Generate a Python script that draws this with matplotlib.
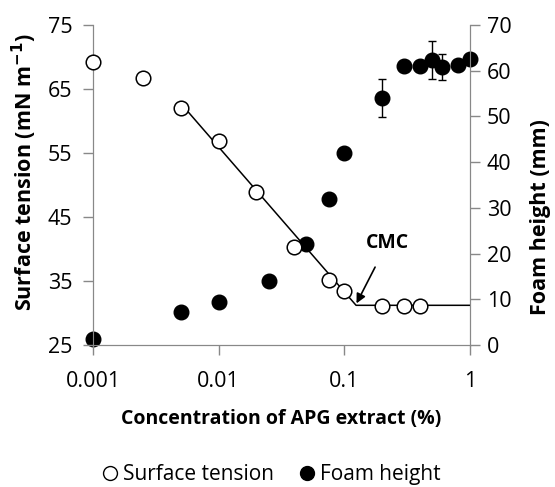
import matplotlib.pyplot as plt
from matplotlib.lines import Line2D

# Surface tension (open circles)
st_conc = [0.001, 0.0025, 0.005, 0.01, 0.02, 0.04, 0.075, 0.1, 0.2, 0.3, 0.4]
st_val = [69.2, 66.7, 62.0, 56.9, 48.9, 40.3, 35.2, 33.4, 31.1, 31.1, 31.1]

# Foam height (filled circles)
fh_conc = [0.001, 0.005, 0.01, 0.025, 0.05, 0.075, 0.1, 0.2, 0.3, 0.4, 0.5, 0.6, 0.8, 1.0]
fh_val = [1.3, 7.2, 9.4, 14.0, 22.1, 31.9, 42.0, 54.0, 61.0, 61.0, 62.3, 60.8, 61.3, 62.5]
fh_err = [0, 0, 0, 0, 0, 0, 0, 4.2, 0, 0, 4.2, 2.8, 0, 0]

# Fitted lines for CMC
fit_x = [0.0055, 0.124, 1.0]
fit_y = [61.8, 31.2, 31.2]

plt.rcParams['font.family'] = ['Open Sans', 'DejaVu Sans']

fig = plt.figure(figsize=(5.55, 4.87), dpi=100)
ax = fig.add_axes([0.1676, 0.2916, 0.6792, 0.6571])
ax2 = ax.twinx()

grey = '#888888'

ax.plot(fit_x, fit_y, color='black', lw=1.1, zorder=2)
ax.plot(st_conc, st_val, 'o', mfc='white', mec='black', mew=1.1, ms=10.5,
        clip_on=False, zorder=3)
ax2.errorbar(fh_conc, fh_val, yerr=fh_err, fmt='o', color='black', ms=10.5,
             elinewidth=1, capsize=3, capthick=1, clip_on=False, zorder=3)

ax.set_xscale('log')
ax.set_xlim(0.001, 1)
ax.set_ylim(25, 75)
ax2.set_ylim(0, 70)
ax.set_xticks([0.001, 0.01, 0.1, 1])
ax.set_xticklabels(['0.001', '0.01', '0.1', '1'])
ax.xaxis.set_minor_locator(plt.NullLocator())
ax.set_yticks([25, 35, 45, 55, 65, 75])
ax2.set_yticks(range(0, 71, 10))

for a in (ax, ax2):
    a.spines['top'].set_visible(False)
    for s in ('left', 'right', 'bottom'):
        a.spines[s].set_color(grey)
    a.tick_params(colors=grey, labelcolor='black', labelsize=15.5, length=7, width=1)
ax.tick_params(axis='y', pad=8)
ax.tick_params(axis='x', pad=12)
ax2.tick_params(axis='y', pad=5)
ax.set_zorder(ax2.get_zorder() + 1)
ax.patch.set_visible(False)

ax.set_xlabel('Concentration of APG extract (%)', fontsize=14, fontweight='bold', labelpad=12)
ax.set_ylabel('Surface tension (mN m$^{\\mathbf{-1}}$)', fontsize=15.5, fontweight='bold')
ax.yaxis.set_label_coords(-0.143, 0.54)
ax2.set_ylabel('Foam height (mm)', fontsize=15.5, fontweight='bold')
ax2.yaxis.set_label_coords(1.16, 0.4)

ax.annotate('CMC', xy=(0.125, 31.5), xytext=(0.22, 40.9), fontsize=14, fontweight='bold',
            ha='center', va='center',
            arrowprops=dict(arrowstyle='-|>', color='black', lw=1.2, shrinkA=9, shrinkB=0,
                            mutation_scale=14))

handles = [Line2D([], [], ls='none', marker='o', mfc='white', mec='black', ms=10),
           Line2D([], [], ls='none', marker='o', color='black', ms=10)]
fig.legend(handles, ['Surface tension', 'Foam height'], loc='center',
           bbox_to_anchor=(0.485, 0.025), ncol=2, frameon=False, fontsize=15,
           handletextpad=0.0, columnspacing=1.0, handlelength=1.2)

fig.savefig('out.png', dpi=100)
